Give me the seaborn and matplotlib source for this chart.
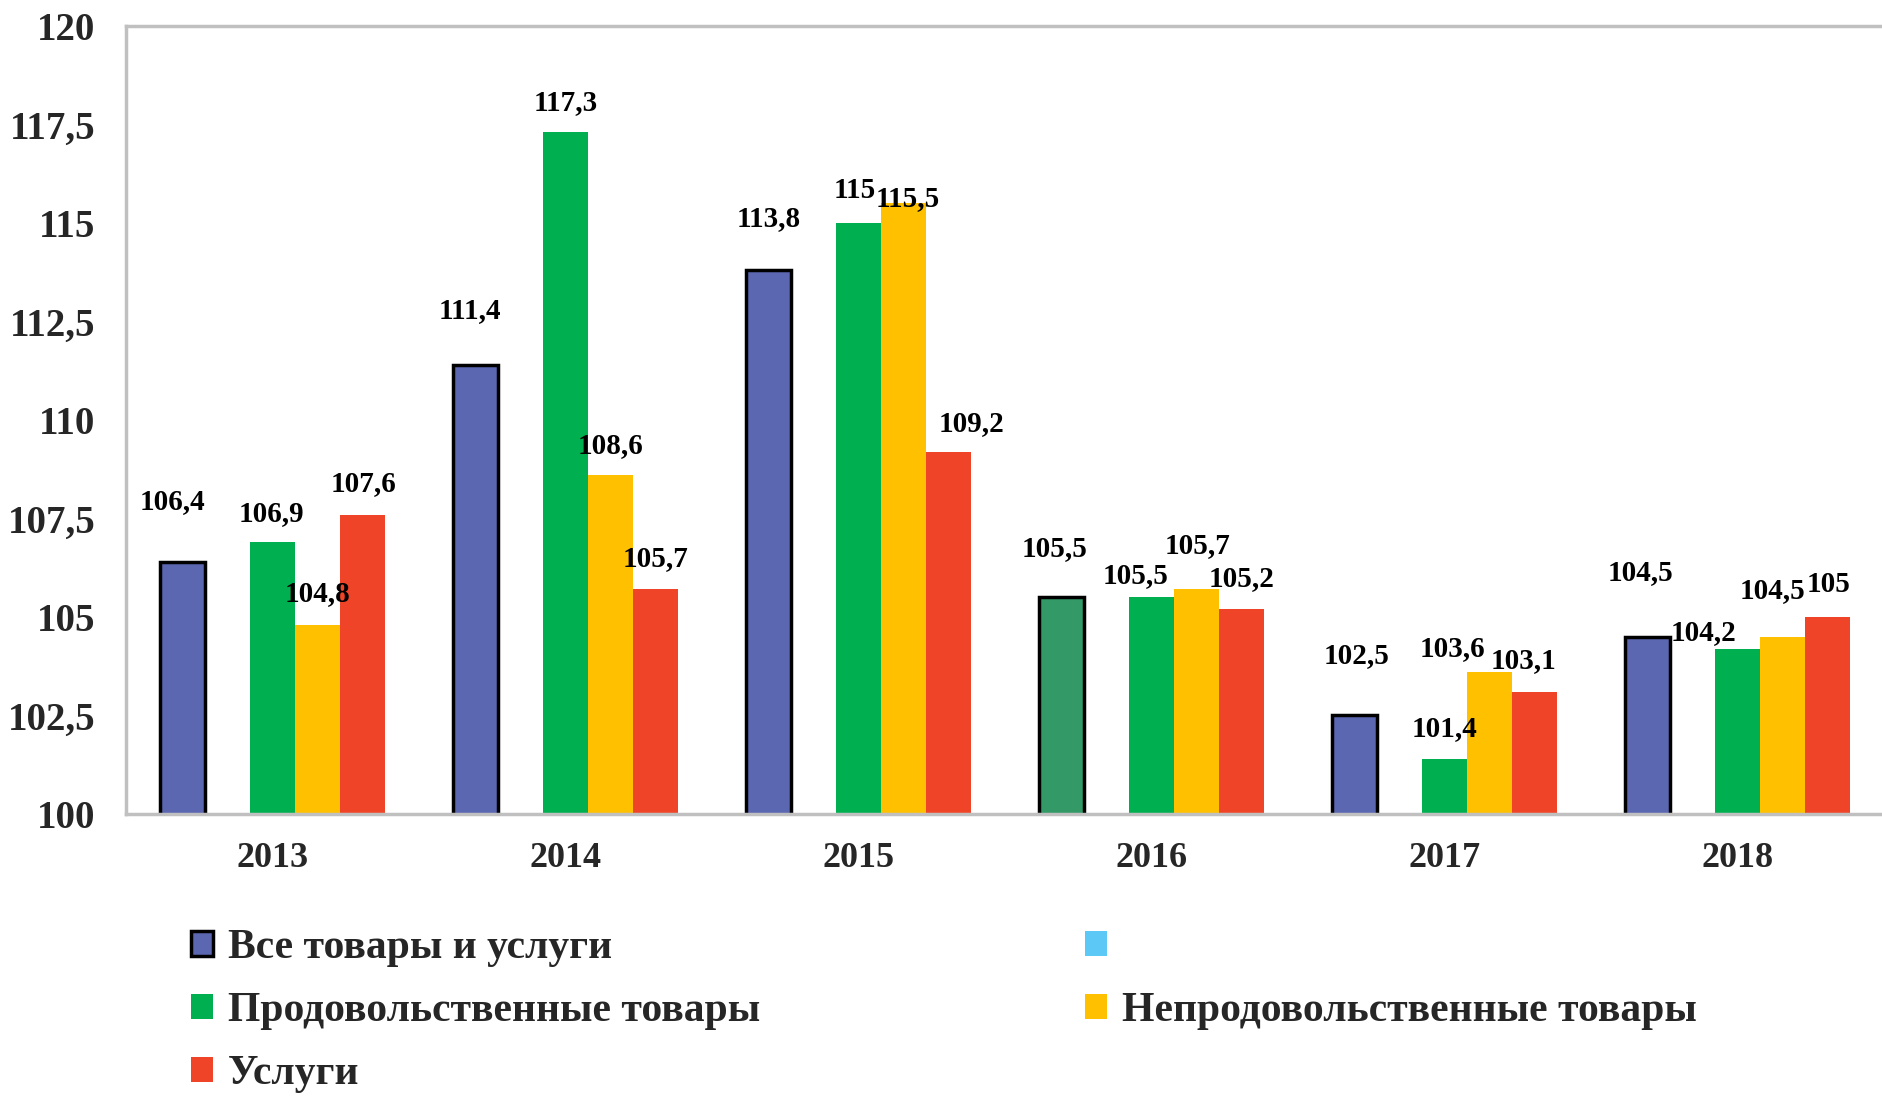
import matplotlib
matplotlib.use("Agg")
import matplotlib.pyplot as plt
from matplotlib.patches import Patch
import numpy as np
import pandas as pd
import seaborn as sns

# Data
years = ["2013", "2014", "2015", "2016", "2017", "2018"]
series = ["Все товары и услуги", " ", "Продовольственные товары",
          "Непродовольственные товары", "Услуги"]
all_goods = [106.4, 111.4, 113.8, 105.5, 102.5, 104.5]
empty_series = [np.nan] * 6
food = [106.9, 117.3, 115.0, 105.5, 101.4, 104.2]
nonfood = [104.8, 108.6, 115.5, 105.7, 103.6, 104.5]
services = [107.6, 105.7, 109.2, 105.2, 103.1, 105.0]
yticks = [100, 102.5, 105, 107.5, 110, 112.5, 115, 117.5, 120]

colors = ["#5B67B0", "#5BC8F5", "#00B050", "#FFC000", "#F04428"]
special_color = "#339966"  # 2016 bar of the first series

# label offsets in pixels (dx, dy) per series, as laid out in the original
label_dx = {
    series[0]: [-10, -5, 0, -7, 2, -7],
    series[2]: [-1, 0, -4, -16, 0, -34],
    series[3]: [0, 0, 4, 1, -37, -10],
    series[4]: [1, 0, 23, 0, -11, 1],
}
label_dy = {
    series[0]: [60, 54, 52, 49, 60, 64],
    series[2]: [29, 30, 32, 22, 30, 16],
    series[3]: [31, 30, 5, 44, 24, 46],
    series[4]: [31, 31, 28, 31, 31, 32],
}

values = [all_goods, empty_series, food, nonfood, services]
rows = []
for name, vals in zip(series, values):
    for y, v in zip(years, vals):
        rows.append({"year": y, "series": name, "value": v})
df = pd.DataFrame(rows)

sns.set_style("white")
plt.rcParams["font.family"] = ["Liberation Serif", "DejaVu Serif"]
plt.rcParams["font.weight"] = "bold"

fig = plt.figure(figsize=(18.82, 10.96), dpi=100)
ax = fig.add_axes([0.067, 0.2573, 0.934, 0.7190])

sns.barplot(data=df, x="year", y="value", hue="series", hue_order=series,
            order=years, palette=colors, width=0.77, saturation=1,
            errorbar=None, ax=ax, legend=False)

# which containers belong to which series (empty series may have none)
if len(ax.containers) == len(series):
    cont_names = series
else:
    cont_names = [s for s in series if s != " "]

# style bars and add labels
for name, cont in zip(cont_names, ax.containers):
    if name not in label_dx:
        continue
    for i, bar in enumerate(cont.patches):
        if name == series[0]:
            bar.set_edgecolor("black")
            bar.set_linewidth(2.5)
            if years[i] == "2016":
                bar.set_facecolor(special_color)
        else:
            bar.set_linewidth(0)
        h = bar.get_height()
        if np.isnan(h):
            continue
        txt = f"{h:g}".replace(".", ",")
        ax.annotate(txt, (bar.get_x() + bar.get_width() / 2, h),
                    xytext=(label_dx[name][i], label_dy[name][i]),
                    textcoords="offset pixels", ha="center", va="center",
                    fontsize=21, fontweight="bold", color="black")

ax.set_ylim(100, 120)
ax.set_xlim(-0.5, 5.5)
ax.set_yticks(yticks)
ax.set_yticklabels([f"{t:g}".replace(".", ",") for t in yticks])
ax.set_xlabel("")
ax.set_ylabel("")

ax.set_xticks(np.arange(-0.5, 6, 1), minor=True)
ax.tick_params(axis="x", which="major", length=0, labelsize=26, pad=20)
ax.tick_params(axis="x", which="minor", length=10, width=2, color="#C0C0C0")
ax.tick_params(axis="y", length=10, width=2, color="#C0C0C0", labelsize=28, pad=12)
for lab in ax.get_xticklabels() + ax.get_yticklabels():
    lab.set_fontweight("bold")

for side in ["left", "bottom", "top"]:
    ax.spines[side].set_color("#C0C0C0")
    ax.spines[side].set_linewidth(2.5)
ax.spines["right"].set_visible(False)

# legend
handles = [
    Patch(facecolor=colors[0], edgecolor="black", linewidth=2.5),
    Patch(facecolor=colors[2], edgecolor="none"),
    Patch(facecolor=colors[4], edgecolor="none"),
    Patch(facecolor=colors[1], edgecolor="none"),
    Patch(facecolor=colors[3], edgecolor="none"),
]
labels = [series[0], series[2], series[4], series[1], series[3]]
fig.legend(handles, labels, ncol=2, loc="upper left",
           bbox_to_anchor=(0.1015, 0.152), frameon=False,
           prop={"size": 30, "weight": "bold"},
           handlelength=0.53, handleheight=0.53, handletextpad=0.35,
           columnspacing=7.8, labelspacing=0.6, borderpad=0, borderaxespad=0)

fig.savefig("out.png", dpi=100)
